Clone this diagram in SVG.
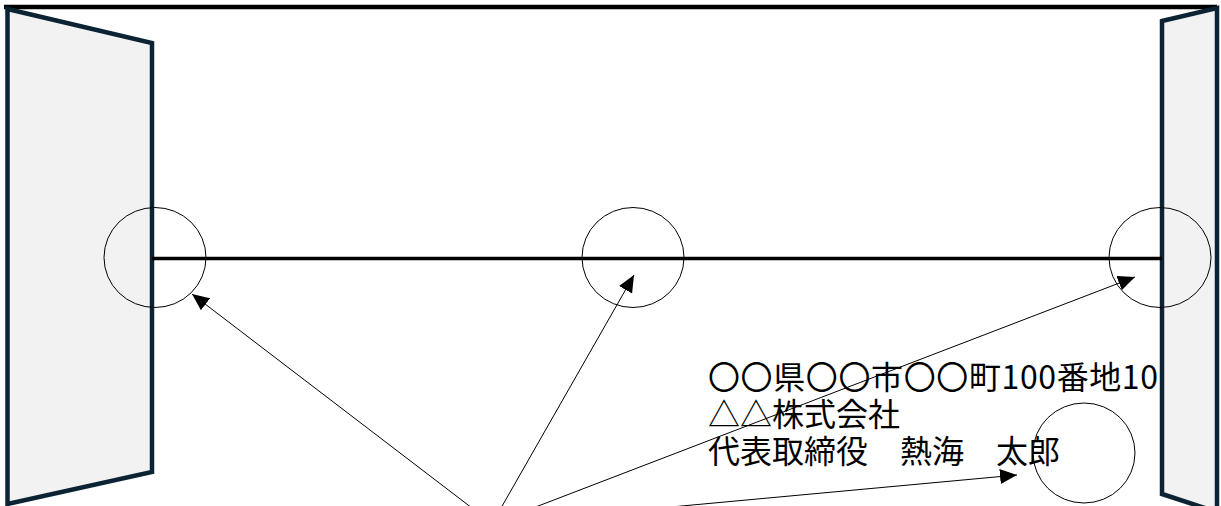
<svg xmlns="http://www.w3.org/2000/svg" width="1221" height="506" viewBox="0 0 1221 506">
<style>
.panel{fill:#f2f2f2;stroke:#0c2333;stroke-width:4.5;stroke-linejoin:miter}
.bar{stroke:#000;stroke-width:3.5;fill:none}
.ring{fill:none;stroke:#000;stroke-width:1}
.arr{stroke:#000;stroke-width:1;fill:none;marker-end:url(#ah)}
.lbl{font-family:"Noto Sans CJK JP","Noto Sans",sans-serif;font-size:32px;fill:#000}
</style>
<defs>
<marker id="ah" markerUnits="userSpaceOnUse" markerWidth="18" markerHeight="16" refX="17" refY="7.5" orient="auto" viewBox="0 0 18 15">
<path d="M0,0 L17,7.5 L0,15 z" fill="#000"/>
</marker>
</defs>
<g id="top-edge"><line class="bar" x1="4" y1="7" x2="1217" y2="7" style="stroke-width:4.5"/></g>
<g id="left-wall"><polygon class="panel" points="7.5,9 152,43 152,472 7.5,504"/></g>
<g id="right-wall"><polygon class="panel" points="1162,21 1217,8 1217,512 1162,494"/></g>
<g id="beam"><line class="bar" x1="152" y1="258.5" x2="1162" y2="258.5"/></g>
<g id="circle-left"><ellipse class="ring" cx="155" cy="257.5" rx="51" ry="50"/></g>
<g id="circle-mid"><ellipse class="ring" cx="633" cy="257.5" rx="51" ry="50"/></g>
<g id="circle-right"><ellipse class="ring" cx="1160" cy="257.5" rx="51" ry="50"/></g>
<g id="circle-seal"><ellipse class="ring" cx="1084" cy="453" rx="51" ry="50"/></g>
<g id="label">
<text class="lbl" x="708" y="389" textLength="450" lengthAdjust="spacing">〇〇県〇〇市〇〇町100番地10</text>
<text class="lbl" x="708" y="426">△△株式会社</text>
<text class="lbl" x="708" y="463">代表取締役　熱海　太郎</text>
</g>
<g id="connectors">
<line class="arr" x1="472" y1="508" x2="192" y2="294"/>
<line class="arr" x1="501" y1="508" x2="634" y2="275"/>
<line class="arr" x1="533" y1="508" x2="1135" y2="277"/>
<line class="arr" x1="660" y1="508" x2="1017" y2="475"/>
</g>
</svg>
